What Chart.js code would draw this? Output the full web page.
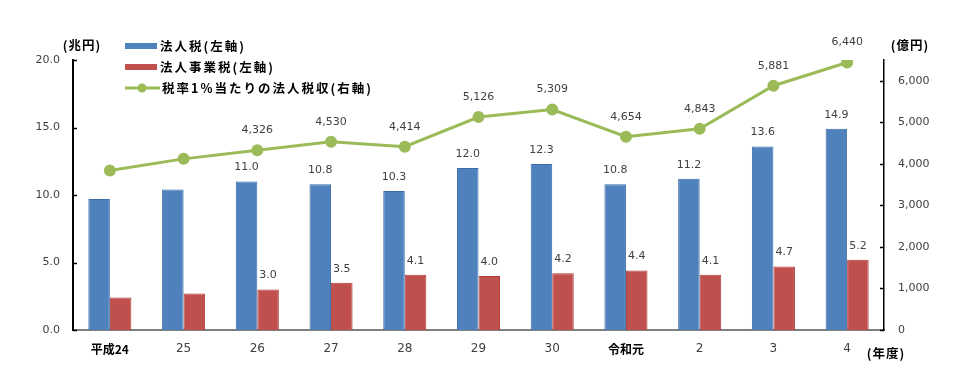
<!DOCTYPE html>
<html>
<head>
<meta charset="utf-8">
<script src="https://cdn.jsdelivr.net/npm/chart.js@4.4.0/dist/chart.umd.min.js"></script>
<style>
html,body{margin:0;padding:0;background:#fff;}
#wrap{width:975px;height:390px;position:relative;}
</style>
</head>
<body>
<div id="wrap"><canvas id="c" width="975" height="390"></canvas></div>
<script>
const categories = ['平成24','25','26','27','28','29','30','令和元','2','3','4'];
const corporateTax = [9.7, 10.4, 11.0, 10.8, 10.3, 12.0, 12.3, 10.8, 11.2, 13.6, 14.9];
const businessTax = [2.4, 2.7, 3.0, 3.5, 4.1, 4.0, 4.2, 4.4, 4.1, 4.7, 5.2];
const revenuePerPct = [3840, 4120, 4326, 4530, 4414, 5126, 5309, 4654, 4843, 5881, 6440];
const seriesNames = ['法人税(左軸)', '法人事業税(左軸)', '税率1%当たりの法人税収(右軸)'];
const leftTicks = [0, 5, 10, 15, 20];
const rightTicks = [0, 1000, 2000, 3000, 4000, 5000, 6000];
const firstLabeledIndex = 2;

const NUM_FONT = '"DejaVu Sans", sans-serif';
const JP_FONT = '"Noto Sans CJK JP", sans-serif';
const BLUE = '#4F81BD', RED = '#C0504D', GREEN = '#9BBB59';

const labelPlugin = {
  id: 'labels',
  afterDatasetsDraw(chart) {
    const ctx = chart.ctx;
    ctx.save();
    ctx.font = '11px ' + NUM_FONT;
    ctx.fillStyle = '#404040';
    ctx.textAlign = 'center';
    ctx.textBaseline = 'middle';
    chart.data.datasets.forEach((ds, di) => {
      const meta = chart.getDatasetMeta(di);
      meta.data.forEach((el, i) => {
        if (i < firstLabeledIndex) return;
        const v = ds.data[i];
        if (ds.type === 'line') {
          ctx.fillText(v.toLocaleString('en-US'), el.x, el.y - 20);
        } else {
          ctx.fillText(v.toFixed(1), el.x, el.y - 14);
        }
      });
    });
    ctx.restore();
  }
};

const decorPlugin = {
  id: 'decor',
  afterDraw(chart) {
    const ctx = chart.ctx;
    const ys = chart.scales.y, yr = chart.scales.y1;
    const area = chart.chartArea;
    ctx.save();
    ctx.strokeStyle = '#000';
    ctx.lineWidth = 1.5;
    leftTicks.forEach(t => {
      const p = Math.round(ys.getPixelForValue(t)) + 0.5;
      ctx.beginPath(); ctx.moveTo(area.left, p); ctx.lineTo(area.left + 4, p); ctx.stroke();
    });
    rightTicks.forEach(t => {
      const p = Math.round(yr.getPixelForValue(t)) + 0.5;
      ctx.beginPath(); ctx.moveTo(area.right, p); ctx.lineTo(area.right - 4, p); ctx.stroke();
    });
    ctx.fillStyle = '#000';
    ctx.font = 'bold 12.5px ' + JP_FONT;
    ctx.textBaseline = 'middle';
    ctx.textAlign = 'center';
    try { ctx.letterSpacing = '1px'; } catch (e) {}
    ctx.fillText('(兆円)', 82, 45);
    ctx.fillText('(億円)', 910, 45);
    ctx.fillText('(年度)', 886, 353);
    const lx = 125, rows = [46, 67, 88];
    ctx.fillStyle = BLUE; ctx.fillRect(lx, rows[0] - 3, 32, 6);
    ctx.fillStyle = RED; ctx.fillRect(lx, rows[1] - 3, 32, 6);
    ctx.strokeStyle = GREEN; ctx.lineWidth = 3;
    ctx.beginPath(); ctx.moveTo(lx, rows[2]); ctx.lineTo(lx + 35, rows[2]); ctx.stroke();
    ctx.fillStyle = GREEN;
    ctx.beginPath(); ctx.arc(lx + 17, rows[2], 4.5, 0, Math.PI * 2); ctx.fill();
    ctx.fillStyle = '#000';
    ctx.font = 'bold 12.5px ' + JP_FONT;
    ctx.textAlign = 'left';
    try { ctx.letterSpacing = '2px'; } catch (e) {}
    ctx.fillText(seriesNames[0], 160, rows[0]);
    ctx.fillText(seriesNames[1], 160, rows[1]);
    ctx.fillText(seriesNames[2], 162, rows[2]);
    ctx.restore();
  }
};

new Chart(document.getElementById('c'), {
  type: 'bar',
  data: {
    labels: categories,
    datasets: [
      { type: 'line', label: seriesNames[2], data: revenuePerPct, yAxisID: 'y1', order: 0,
        borderColor: GREEN, backgroundColor: GREEN, borderWidth: 3, pointRadius: 4.5,
        pointBackgroundColor: GREEN, pointBorderColor: GREEN, tension: 0 },
      { label: seriesNames[0], data: corporateTax, yAxisID: 'y', order: 1,
        backgroundColor: BLUE, borderColor: '#3C6DAA', borderWidth: 1,
        categoryPercentage: 0.584, barPercentage: 1.0 },
      { label: seriesNames[1], data: businessTax, yAxisID: 'y', order: 1,
        backgroundColor: RED, borderColor: '#B03C38', borderWidth: 1,
        categoryPercentage: 0.584, barPercentage: 1.0 }
    ]
  },
  options: {
    responsive: false,
    animation: false,
    layout: { padding: { top: 60, left: 0, right: 0, bottom: 0 } },
    plugins: { legend: { display: false }, tooltip: { enabled: false } },
    scales: {
      x: {
        grid: { display: false, drawTicks: false },
        border: { display: true, color: '#7f7f7f', width: 2 },
        ticks: {
          padding: 12,
          font: (c) => ({ family: (c.index === 0 || c.index === 7) ? JP_FONT : NUM_FONT,
                          size: 12, weight: (c.index === 0 || c.index === 7) ? 'bold' : 'normal' }),
          color: (c) => (c.index === 0 || c.index === 7) ? '#000' : '#404040',
          maxRotation: 0, autoSkip: false
        },
        afterFit: (s) => { s.height = 60; }
      },
      y: {
        position: 'left', min: 0, max: 20,
        afterBuildTicks: (s) => { s.ticks = leftTicks.map(v => ({ value: v })); },
        grid: { display: false, drawTicks: false },
        border: { display: true, color: '#000', width: 2 },
        ticks: { padding: 13, color: '#404040', font: { family: NUM_FONT, size: 11 },
                 callback: (v) => Number(v).toFixed(1) },
        afterFit: (s) => { s.width = 73; }
      },
      y1: {
        position: 'right', min: 0, max: 6500,
        afterBuildTicks: (s) => { s.ticks = rightTicks.map(v => ({ value: v })); },
        grid: { display: false, drawTicks: false },
        border: { display: true, color: '#000', width: 1.5 },
        ticks: { padding: 14, color: '#404040', font: { family: NUM_FONT, size: 11 },
                 callback: (v) => Number(v).toLocaleString('en-US') },
        afterFit: (s) => { s.width = 91; }
      }
    }
  },
  plugins: [labelPlugin, decorPlugin]
});
</script>
</body>
</html>
